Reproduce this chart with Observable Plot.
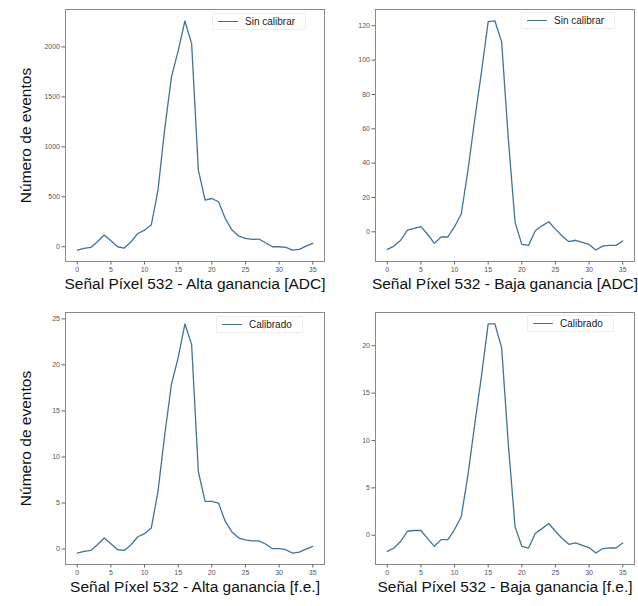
<!DOCTYPE html>
<html>
<head>
<meta charset="utf-8">
<script src="https://cdn.jsdelivr.net/npm/d3@7"></script>
<script src="https://cdn.jsdelivr.net/npm/@observablehq/plot@0.6"></script>
<style>
  body { margin: 0; background: #fff; }
  #fig { position: relative; width: 638px; height: 606px; font-family: "Liberation Sans", Arial, sans-serif; }
  .panel { position: absolute; }
  .legend { position: absolute; display: flex; align-items: center; font-size: 10px; color: #222;
            border: 1px solid rgba(225,225,225,0.6); border-radius: 2px; padding: 2px 10px 2px 5px;
            background: rgba(255,255,255,0.85); white-space: nowrap; }
  .legend .swatch { width: 20px; height: 0; border-top: 1.3px solid #44729a; margin-right: 7px; }
</style>
</head>
<body>
<div id="fig"></div>
<script>
// Signal bins (x) shared by all four histograms
const bins = [0,1,2,3,4,5,6,7,8,9,10,11,12,13,14,15,16,17,18,19,20,21,22,23,24,25,26,27,28,29,30,31,32,33,34,35];

// Pixel 532, high gain, raw ADC
const altaADC = [-33,-17,-7,50,117,60,0,-13,50,133,167,217,567,1180,1700,1960,2260,2033,767,467,483,450,283,167,107,83,73,77,40,0,0,-7,-33,-27,7,33];
// Pixel 532, low gain, raw ADC
const bajaADC = [-10.2,-8.3,-4.9,1,2,3,-1.4,-6.7,-3,-3,3,10.4,36,65.4,93,122.4,122.8,110.6,53.6,5.5,-7.3,-7.9,0.6,3.5,5.9,1.6,-2.4,-5.7,-4.9,-6.1,-7.3,-10.6,-8.3,-7.9,-7.9,-5.3];
// Pixel 532, high gain, calibrated (f.e.)
const altaFE = [-0.43,-0.25,-0.15,0.47,1.2,0.58,-0.07,-0.15,0.47,1.34,1.67,2.28,6.27,12.4,17.9,20.8,24.45,22.2,8.4,5.18,5.18,5.0,3.0,1.85,1.2,1.0,0.9,0.9,0.55,0.04,0.04,-0.07,-0.43,-0.33,0,0.29];
// Pixel 532, low gain, calibrated (f.e.)
const bajaFE = [-1.7,-1.35,-0.64,0.42,0.5,0.5,-0.35,-1.17,-0.46,-0.46,0.6,1.95,6.4,11.7,16.8,22.3,22.3,19.8,9.56,0.88,-1.17,-1.35,0.18,0.7,1.24,0.42,-0.35,-0.96,-0.81,-1.06,-1.3,-1.88,-1.42,-1.35,-1.35,-0.81];

// Tick values
const xTicks = [0,5,10,15,20,25,30,35];
const yTicksAltaADC = [0,500,1000,1500,2000];
const yTicksBajaADC = [0,20,40,60,80,100,120];
const yTicksAltaFE = [0,5,10,15,20,25];
const yTicksBajaFE = [0,5,10,15,20];

// Text
const yTitle = "Número de eventos";
const xTitles = [
  "Señal Píxel 532 - Alta ganancia [ADC]",
  "Señal Píxel 532 - Baja ganancia [ADC]",
  "Señal Píxel 532 - Alta ganancia [f.e.]",
  "Señal Píxel 532 - Baja ganancia [f.e.]"
];
const legendLabels = ["Sin calibrar", "Sin calibrar", "Calibrado", "Calibrado"];

const lineColor = "#44729a";

// Pad a range by 5% on each side
function padded(vals) {
  const [lo, hi] = d3.extent(vals);
  const m = (hi - lo) * 0.05;
  return [lo - m, hi + m];
}

const plain = d => String(d);

const panels = [
  {values: altaADC, yTicks: yTicksAltaADC, title: xTitles[0], legend: legendLabels[0], showY: true,
   left: 0, top: 0, width: 330, mL: 65, mR: 6, legLeft: 212, legTop: 12.5},
  {values: bajaADC, yTicks: yTicksBajaADC, title: xTitles[1], legend: legendLabels[1], showY: false,
   left: 330, top: 0, width: 308, mL: 45, mR: 4, legLeft: 191, legTop: 12},
  {values: altaFE, yTicks: yTicksAltaFE, title: xTitles[2], legend: legendLabels[2], showY: true,
   left: 0, top: 303, width: 330, mL: 65, mR: 6, legLeft: 216, legTop: 13},
  {values: bajaFE, yTicks: yTicksBajaFE, title: xTitles[3], legend: legendLabels[3], showY: false,
   left: 330, top: 303, width: 308, mL: 45, mR: 4, legLeft: 197, legTop: 12}
];

const fig = document.getElementById("fig");

for (const p of panels) {
  const rows = bins.map((b, i) => ({bin: b, count: p.values[i]}));
  const marks = [
    Plot.frame({stroke: "#8a8a8a"}),
    Plot.axisX({ticks: xTicks, tickFormat: plain, tickSize: 3.5, tickPadding: 2, fontSize: 7,
                stroke: "#666", fill: "#555", label: null}),
    Plot.axisY({ticks: p.yTicks, tickFormat: plain, tickSize: 3.5, tickPadding: 2, fontSize: 7,
                stroke: "#666", fill: "#555", label: null}),
    Plot.line(rows, {x: "bin", y: "count", stroke: lineColor, strokeWidth: 1.3}),
    Plot.text([p.title], {frameAnchor: "bottom", dy: 27, fontSize: 15.5, fill: "#111"})
  ];
  if (p.showY) {
    marks.push(Plot.text([yTitle], {frameAnchor: "left", textAnchor: "middle", dx: -39, rotate: -90,
                                    fontSize: 15.5, fill: "#111"}));
  }
  const chart = Plot.plot({
    width: p.width,
    height: 303,
    marginLeft: p.mL,
    marginRight: p.mR,
    marginTop: 9,
    marginBottom: 42,
    style: {fontFamily: "Liberation Sans, Arial, sans-serif", background: "transparent", overflow: "visible"},
    x: {domain: padded(bins)},
    y: {domain: padded(p.values)},
    marks
  });
  const wrap = document.createElement("div");
  wrap.className = "panel";
  wrap.style.left = p.left + "px";
  wrap.style.top = p.top + "px";
  wrap.appendChild(chart);

  const leg = document.createElement("div");
  leg.className = "legend";
  leg.style.left = p.legLeft + "px";
  leg.style.top = p.legTop + "px";
  const sw = document.createElement("span");
  sw.className = "swatch";
  const tx = document.createElement("span");
  tx.textContent = p.legend;
  leg.appendChild(sw);
  leg.appendChild(tx);
  wrap.appendChild(leg);

  fig.appendChild(wrap);
}
</script>
</body>
</html>
